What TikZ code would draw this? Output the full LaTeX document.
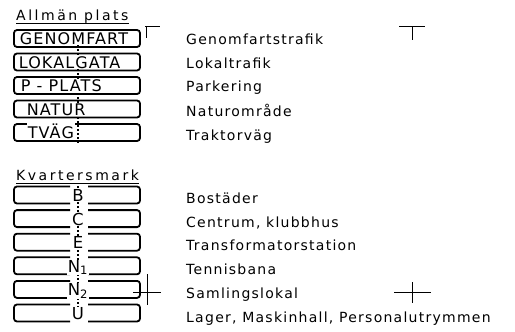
\documentclass[tikz,border=0pt]{standalone}
\usepackage{fontspec}
\setmainfont{DejaVu Sans}
\newfontfamily\boxfont[LetterSpace=7]{DejaVu Sans}
\newfontfamily\descfont[LetterSpace=9]{DejaVu Sans}
\newfontfamily\headfont[LetterSpace=18]{DejaVu Sans}
\begin{document}
\begin{tikzpicture}[x=1pt,y=-1pt,
  legbox/.style={draw, line width=1.8pt, rounded corners=3pt, minimum width=126pt, minimum height=17pt, inner sep=0pt},
  halfbox/.style={line width=1.8pt, rounded corners=3pt},
  desc/.style={anchor=base west, inner sep=0pt, font=\descfont\fontsize{14}{16}\selectfont},
  head/.style={anchor=base west, inner sep=0pt, font=\headfont\fontsize{14}{16}\selectfont},
  code/.style={anchor=base west, inner sep=0.6pt, fill=white, font=\boxfont\fontsize{16}{18}\selectfont},
  letter/.style={anchor=base, inner sep=0.6pt, fill=white, font=\fontsize{16.5}{18}\selectfont},
  dotline/.style={line width=2pt, dash pattern=on 2pt off 2pt},
  cropmark/.style={line width=0.8pt}]
\useasboundingbox (0,0) rectangle (515,332);

% headers
\node[head] (h1) at (16,20) {Allmän plats};
\draw[line width=1pt] ([yshift=-3pt]h1.base west) -- ([yshift=-3pt]h1.base east);
\node[head] (h2) at (16,180) {Kvartersmark};
\draw[line width=1pt] ([yshift=-3pt]h2.base west) -- ([yshift=-3pt]h2.base east);

% top boxes
\node[legbox] (b1) at (77,38.5) {};
\node[legbox] (b2) at (77,62) {};
\node[legbox] (b3) at (77,85.5) {};
\node[legbox] (b4) at (77,109) {};
\node[legbox] (b5) at (77,132.5) {};

\coordinate (t1) at (78,29);
\coordinate (t2) at (78,144);
\draw[dotline] (t1) -- (t2);

\node[code] (c1) at (19,44.5) {GENOMFART};
\node[code] (c2) at (18,68) {LOKALGATA};
\node[code] (c3) at (20,91.5) {P - PLATS};
\node[code] (c4) at (26,115) {NATUR};
\node[code] (c5) at (27,138.5) {TVÄG};

% bottom split boxes
\foreach \i in {0,...,5}{
  \pgfmathsetmacro{\yc}{195+23.6*\i}
  \draw[halfbox] (70,\yc-8.5) -- (14,\yc-8.5) -- (14,\yc+8.5) -- (70,\yc+8.5);
  \draw[halfbox] (88,\yc-8.5) -- (140,\yc-8.5) -- (140,\yc+8.5) -- (88,\yc+8.5);
}
\coordinate (u1) at (78,186);
\coordinate (u2) at (78,321);
\draw[dotline] (u1) -- (u2);

\node[letter] (l1) at (78,201.5) {B};
\node[letter] (l2) at (78,225.1) {C};
\node[letter] (l3) at (78,248.7) {E};
\node[letter] (l4) at (78,272.3) {N\textsubscript{1}};
\node[letter] (l5) at (78,295.9) {N\textsubscript{2}};
\node[letter] (l6) at (78,319.5) {U};

% descriptions
\node[desc] (d1) at (186,44) {Genomfartstrafik};
\node[desc] (d2) at (186,68) {Lokaltrafik};
\node[desc] (d3) at (186,92) {Parkering};
\node[desc] (d4) at (186,116) {Naturområde};
\node[desc] (d5) at (186,140) {Traktorväg};
\node[desc] (e1) at (186,203) {Bostäder};
\node[desc] (e2) at (186,227) {Centrum, klubbhus};
\node[desc] (e3) at (186,250.5) {Transformatorstation};
\node[desc] (e4) at (186,274) {Tennisbana};
\node[desc] (e5) at (186,298) {Samlingslokal};
\node[desc] (e6) at (186,322) {Lager, Maskinhall, Personalutrymmen};

% crop marks
\draw[cropmark] (145,26) -- (160,26);
\draw[cropmark] (146.5,26) -- (146.5,38);
\draw[cropmark] (399,26) -- (425,26);
\draw[cropmark] (412,26) -- (412,40);
\draw[cropmark] (133,292) -- (161,292);
\draw[cropmark] (147,274) -- (147,305);
\draw[cropmark] (394,292) -- (431,292);
\draw[cropmark] (412,282) -- (412,303);
\end{tikzpicture}
\end{document}
